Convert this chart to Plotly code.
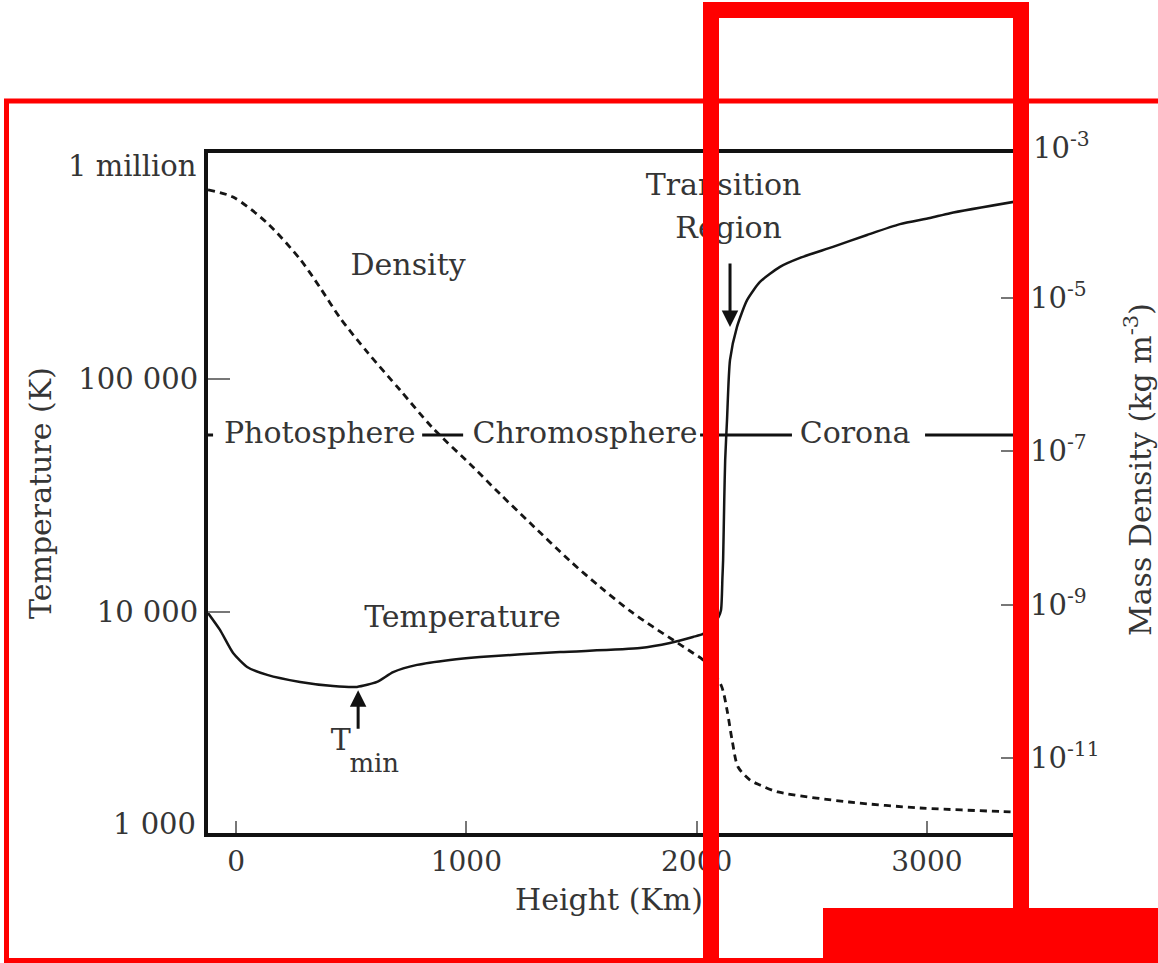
import math
import plotly.graph_objects as go

# ---------------- data ----------------
height_T_km = [-122, -70, -13, 48, 135, 278, 421, 525, 612, 682, 786, 929, 1059, 1407, 1754,
               1884, 1984, 2028, 2067, 2095, 2106, 2112, 2115, 2120, 2124, 2132, 2145, 2175,
               2219, 2275, 2362, 2449, 2592, 2740, 2883, 3013, 3101, 3400]
temperature_K = [9900, 8380, 6670, 5810, 5370, 5010, 4810, 4770, 5010, 5520, 5930, 6230, 6410,
                 6730, 7000, 7360, 7810, 8050, 8700, 9500, 10200, 14000, 16700, 30300, 44900,
                 66700, 120800, 167000, 218000, 261000, 303000, 331000, 369000, 415000, 462000,
                 491000, 515000, 581000]

height_rho_km = [-122, -13, 135, 278, 365, 452, 569, 712, 855, 1029, 1146, 1277, 1450, 1581,
                 1711, 1811, 1898, 1984, 2028, 2106, 2132, 2154, 2180, 2232, 2275, 2353, 2662,
                 2970, 3361, 3400]
mass_density = [2.57e-4, 2.07e-4, 9.5e-5, 3.2e-5, 1.36e-5, 5.48e-6, 1.98e-6, 6.3e-7, 2.0e-7,
                6.25e-8, 2.78e-8, 1.16e-8, 3.72e-9, 1.70e-9, 8.28e-10, 5.12e-10, 3.46e-10,
                2.34e-10, 1.90e-10, 8.95e-11, 4.23e-11, 1.72e-11, 7.64e-12, 5.16e-12, 4.45e-12,
                3.61e-12, 2.67e-12, 2.23e-12, 1.98e-12, 1.95e-12]

x_ticks = [0, 1000, 2000, 3000]
T_ticks = [1e4, 1e5]
T_ticktext = ["10 000", "100 000"]
T_end_labels = ["1 million", "1 000"]
rho_ticks = [1e-5, 1e-7, 1e-9, 1e-11]
rho_ticktext = ["10<sup>-5</sup>", "10<sup>-7</sup>", "10<sup>-9</sup>", "10<sup>-11</sup>"]
rho_top_label = "10<sup>-3</sup>"

region_names = ["Photosphere", "Chromosphere", "Corona"]
region_label_km = [363, 1515, 2688]
region_level_K = 57500
region_segments_km = [(-122, -100), (808, 986), (2015, 2414), (2992, 3400)]

curve_labels = ["Density", "Temperature", "Transition", "Region"]
curve_label_km = [747, 983, 2117, 2139]
curve_label_K = [302000, 9330, 661000, 436000]

tmin_km = 530
tmin_K = 4620
transition_arrow_km = 2145
transition_arrow_K = 167000

# ---------------- layout geometry ----------------
W, H = 1158, 963
L, R, T, B = 208, 1019, 153, 833
FONT = "DejaVu Serif"
TXT = "#353535"


def px(x):
    return (x - L) / (R - L)


def py(y):
    return (B - y) / (B - T)


fig = go.Figure()

fig.add_trace(go.Scatter(
    x=height_T_km, y=temperature_K, mode="lines",
    line=dict(color="#151515", width=2.5, shape="spline", smoothing=0.6),
    hoverinfo="skip", showlegend=False))

fig.add_trace(go.Scatter(
    x=height_rho_km, y=mass_density, mode="lines", yaxis="y2",
    line=dict(color="#151515", width=2.8, dash="7px,5px", shape="spline", smoothing=0.8),
    hoverinfo="skip", showlegend=False))

# in-plot labels as text (drawn below the red overlay shapes)
fig.add_trace(go.Scatter(
    x=region_label_km, y=[region_level_K] * len(region_names), text=region_names,
    mode="text", textposition="middle center",
    textfont=dict(family=FONT, size=30, color=TXT),
    hoverinfo="skip", showlegend=False, cliponaxis=False))
fig.add_trace(go.Scatter(
    x=curve_label_km, y=curve_label_K, text=curve_labels,
    mode="text", textposition="middle center",
    textfont=dict(family=FONT, size=30, color=TXT),
    hoverinfo="skip", showlegend=False, cliponaxis=False))
fig.add_trace(go.Scatter(
    x=[455, 600], y=[2750, 2200], text=["T", "min"],
    mode="text", textposition="middle center",
    textfont=dict(family=FONT, size=[30, 26], color=TXT),
    hoverinfo="skip", showlegend=False, cliponaxis=False))

shapes = []
for a, b in region_segments_km:
    shapes.append(dict(type="line", xref="x", yref="y", x0=a, x1=b,
                       y0=region_level_K, y1=region_level_K,
                       line=dict(color="#111", width=3), layer="above"))

# red overlay marks
RED = "#FF0000"
shapes.append(dict(type="rect", xref="paper", yref="paper",
                   x0=px(6.5), x1=px(1185), y0=py(101), y1=py(960.5),
                   line=dict(color=RED, width=5), fillcolor="rgba(0,0,0,0)", layer="above"))
shapes.append(dict(type="rect", xref="paper", yref="paper",
                   x0=px(711), x1=px(1021), y0=py(10), y1=py(1000),
                   line=dict(color=RED, width=16), fillcolor="rgba(0,0,0,0)", layer="above"))
shapes.append(dict(type="rect", xref="paper", yref="paper",
                   x0=px(823), x1=px(1185), y0=py(908), y1=py(1000),
                   line=dict(width=0), fillcolor=RED, layer="above"))

annotations = []
# arrows
annotations.append(dict(x=tmin_km, y=math.log10(tmin_K), xref="x", yref="y",
                        text="", showarrow=True, arrowhead=2, arrowsize=1.1, arrowwidth=3,
                        arrowcolor="#111", ax=0, ay=40))
annotations.append(dict(x=transition_arrow_km, y=math.log10(transition_arrow_K), xref="x", yref="y",
                        text="", showarrow=True, arrowhead=2, arrowsize=1.1, arrowwidth=3,
                        arrowcolor="#111", ax=0, ay=-65))
# end tick labels
annotations.append(dict(x=px(198), y=py(166), xref="paper", yref="paper", text=T_end_labels[0],
                        showarrow=False, xanchor="right", yanchor="middle",
                        font=dict(family=FONT, size=29, color=TXT)))
annotations.append(dict(x=px(198), y=py(824), xref="paper", yref="paper", text=T_end_labels[1],
                        showarrow=False, xanchor="right", yanchor="middle",
                        font=dict(family=FONT, size=29, color=TXT)))
annotations.append(dict(x=px(1031), y=py(146), xref="paper", yref="paper", text=rho_top_label,
                        showarrow=False, xanchor="left", yanchor="middle",
                        font=dict(family=FONT, size=29, color=TXT)))
# axis titles
annotations.append(dict(x=px(40), y=py(493), xref="paper", yref="paper", text="Temperature (K)",
                        showarrow=False, textangle=-90, xanchor="center", yanchor="middle",
                        font=dict(family=FONT, size=30, color=TXT)))
annotations.append(dict(x=px(609), y=py(899), xref="paper", yref="paper", text="Height (Km)",
                        showarrow=False, xanchor="center", yanchor="middle",
                        font=dict(family=FONT, size=30, color=TXT)))
annotations.append(dict(x=px(1138), y=py(470), xref="paper", yref="paper",
                        text="Mass Density (kg m<sup>-3</sup>)",
                        showarrow=False, textangle=-90, xanchor="center", yanchor="middle",
                        font=dict(family=FONT, size=30, color=TXT)))

fig.update_layout(
    width=W, height=H,
    margin=dict(l=L, r=W - R, t=T, b=H - B, pad=0),
    paper_bgcolor="white", plot_bgcolor="white",
    showlegend=False,
    shapes=shapes, annotations=annotations,
    xaxis=dict(range=[-122, 3400], tickmode="array", tickvals=x_ticks,
               ticks="inside", ticklen=12, tickwidth=2, tickcolor="#777",
               showline=True, linewidth=4, linecolor="#111", mirror=True,
               showgrid=False, zeroline=False,
               tickfont=dict(family=FONT, size=28, color=TXT)),
    yaxis=dict(type="log", range=[3.0515, 5.970], tickmode="array", tickvals=T_ticks,
               ticktext=T_ticktext, ticks="inside", ticklen=22, tickwidth=2, tickcolor="#777",
               showline=True, linewidth=4, linecolor="#111", mirror=True,
               showgrid=False, zeroline=False,
               tickfont=dict(family=FONT, size=29, color=TXT)),
    yaxis2=dict(type="log", range=[-11.978, -3.109], overlaying="y", side="right",
                tickmode="array", tickvals=rho_ticks, ticktext=rho_ticktext,
                ticks="inside", ticklen=18, tickwidth=2, tickcolor="#777",
                showline=False, showgrid=False, zeroline=False, ticklabelstandoff=10,
                tickfont=dict(family=FONT, size=29, color=TXT)),
)

fig.write_html("out.html", config={"displayModeBar": False})
